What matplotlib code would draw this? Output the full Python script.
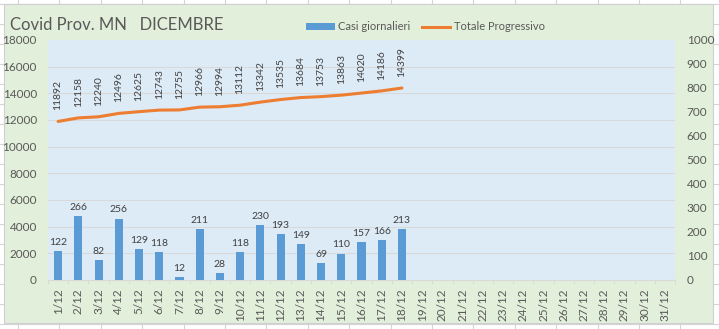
import numpy as np
import matplotlib
matplotlib.use("Agg")
import matplotlib.pyplot as plt
from matplotlib.patches import Rectangle, Patch
from matplotlib.lines import Line2D

plt.rcParams['font.family'] = ['Lato', 'DejaVu Sans']

# data
days = [f"{d}/12" for d in range(1, 32)]
daily = [122, 266, 82, 256, 129, 118, 12, 211, 28, 118, 230, 193, 149, 69, 110, 157, 166, 213]
totals = [11892, 12158, 12240, 12496, 12625, 12743, 12755, 12966, 12994, 13112,
          13342, 13535, 13684, 13753, 13863, 14020, 14186, 14399]
left_ticks = list(range(0, 18001, 2000))
right_ticks = list(range(0, 1001, 100))

W, H = 719, 329
BLUE = '#5B9BD5'
ORANGE = '#ED7D31'
TXT = '#595959'
GRID = '#D9D9D9'

fig = plt.figure(figsize=(W / 100, H / 100), dpi=100)
fig.patch.set_facecolor('white')

# excel sheet cell lines behind the chart
for k in range(18):
    x = 18 + 41.4 * k
    fig.add_artist(Line2D([x / W, x / W], [0, 1], color='#D4D4D4', lw=0.8, zorder=-5))
for k in range(17):
    y = 4 + 20 * k
    fig.add_artist(Line2D([0, 1], [1 - y / H, 1 - y / H], color='#D4D4D4', lw=0.8, zorder=-5))

# chart area
fig.add_artist(Rectangle((4 / W, 1 - 323 / H), 709 / W, 319 / H, facecolor='#E2EFDA',
                         edgecolor='#D0D0D0', lw=0.8, zorder=-4))

ax = fig.add_axes([48 / W, 1 - 280 / H, 627 / W, 240 / H])
ax.set_facecolor('#DDEBF7')
x = np.arange(len(daily))

# bars on the right scale
bars = ax.bar(x, daily, width=0.4, color=BLUE, zorder=3)
ax.bar_label(bars, padding=3, fontsize=7.5, color='#404040')
ax.set_ylim(0, 1000)
ax.set_xlim(-0.5, len(days) - 0.5)
ax.set_yticks(right_ticks)
ax.set_yticks(np.linspace(0, 1000, 10), minor=True)
ax.grid(True, which='minor', axis='y', color=GRID, lw=0.8, zorder=0)
ax.set_xticks(np.arange(len(days)))
ax.set_xticklabels(days, rotation=90)
ax.set_xticks(np.arange(len(days) + 1) - 0.5, minor=True)
ax.tick_params(axis='x', which='major', length=0, labelsize=8.5, labelcolor=TXT, pad=6)
ax.tick_params(axis='x', which='minor', length=3, color=GRID)
for s in ['top', 'left', 'right']:
    ax.spines[s].set_visible(False)
ax.spines['bottom'].set_color(GRID)

# line on the left scale
ax2 = ax.twinx()
ax2.plot(x, totals, color=ORANGE, lw=2.2, solid_capstyle='round')
for xi, v in zip(x, totals):
    ax2.annotate(str(v), (xi, v), xytext=(0, 8), textcoords='offset points',
                 rotation=90, ha='center', va='bottom', fontsize=7.5, color='#404040')
ax2.set_ylim(0, 18000)
ax2.set_yticks(left_ticks)
ax2.yaxis.tick_left()
ax2.tick_params(axis='y', length=0, labelsize=8.5, labelcolor=TXT, pad=8)
for s in ax2.spines.values():
    s.set_visible(False)

# twinx moved the bar scale to the left, put it back on the right
ax.yaxis.tick_right()
ax.tick_params(axis='y', which='both', length=0, labelsize=8.5, labelcolor=TXT, pad=8.5,
               left=False, labelleft=False)

fig.text(10 / W, 1 - 25 / H, "Covid Prov. MN   DICEMBRE", fontsize=12, color=TXT,
         ha='left', va='center')

handles = [Patch(facecolor=BLUE, edgecolor='none', label='Casi giornalieri'),
           Line2D([], [], color=ORANGE, lw=2.2, label='Totale Progressivo')]
fig.legend(handles=handles, loc='center left', bbox_to_anchor=(296 / W, 1 - 27 / H),
           ncol=2, frameon=False, fontsize=8, handlelength=2.6, handleheight=0.5,
           columnspacing=1.0, handletextpad=0.3, labelcolor=TXT)

fig.savefig('out.png', dpi=100)
